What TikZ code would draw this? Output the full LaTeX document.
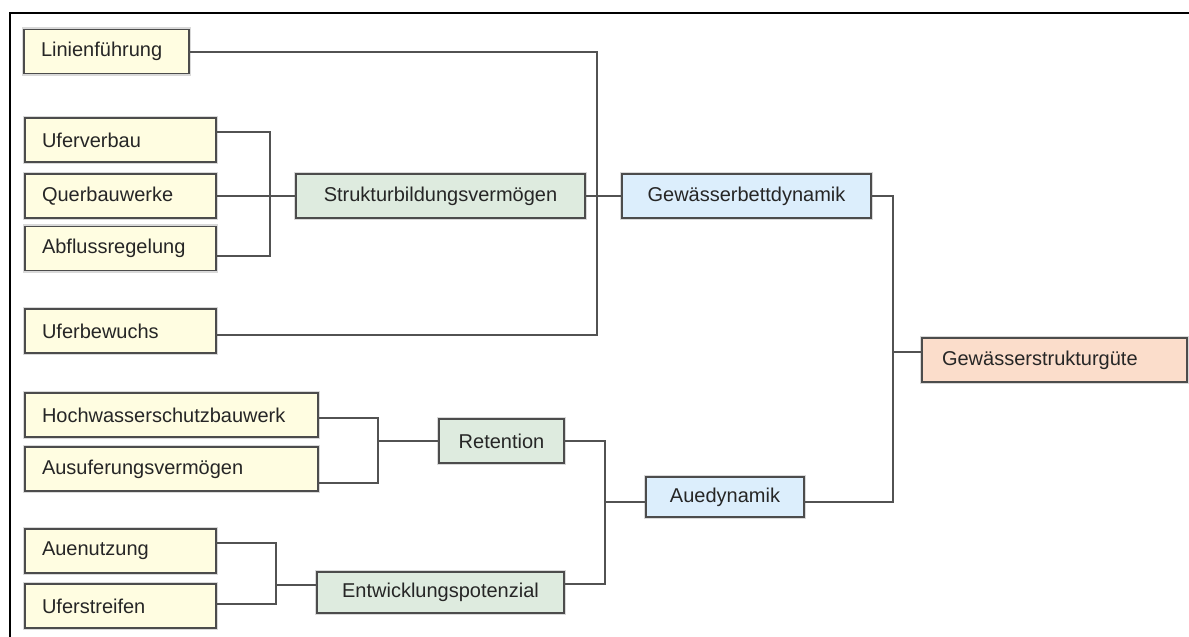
\documentclass[tikz,border=0pt]{standalone}
\usepackage{fontspec}
\setmainfont{Liberation Sans}
\definecolor{leafcol}{HTML}{FFFDE1}
\definecolor{groupcol}{HTML}{DEEBDF}
\definecolor{dyncol}{HTML}{DCEEFC}
\definecolor{resultcol}{HTML}{FBDDCB}
\tikzset{
  box/.style={draw=black!70, line width=1.8pt, preaction={draw=black!15, line width=4.5pt},
    minimum height=44pt, inner ysep=0pt, outer sep=0pt, anchor=west, text=black!85,
    font=\fontsize{20}{24}\selectfont},
  leaf/.style={box, fill=leafcol, inner xsep=17pt, text width=#1, align=left},
  group/.style={box, fill=groupcol, minimum width=#1, align=center},
  dyn/.style={box, fill=dyncol, minimum width=#1, align=center},
  result/.style={box, fill=resultcol, inner xsep=20pt, text width=#1, align=left},
  link/.style={draw=black!68, line width=2pt}
}
\begin{document}
\begin{tikzpicture}[x=1pt, y=-1pt]
    \useasboundingbox (0,0) rectangle (1189,637);
    \draw[line width=2pt] (10,637) -- (10,13) -- (1189,13);

    \node[leaf=131] (lin) at (24,51.5) {Linienführung};
    \node[leaf=157] (ufv) at (25,140) {Uferverbau};
    \node[leaf=157] (que) at (25,196) {Querbauwerke};
    \node[leaf=157] (abf) at (25,248.5) {Abflussregelung};
    \node[leaf=157] (ufb) at (25,331) {Uferbewuchs};
    \node[leaf=259] (hoch) at (25,415) {Hochwasserschutzbauwerk};
    \node[leaf=259] (ausu) at (25,469) {Ausuferungsvermögen};
    \node[leaf=157] (auen) at (25,551) {Auenutzung};
    \node[leaf=157] (ufs) at (25,606) {Uferstreifen};

    \node[group=289] (struk) at (296,196) {Strukturbildungsvermögen};
    \node[group=125] (ret) at (439,441) {Retention};
    \node[group=247, minimum height=41pt] (ent) at (317,592.5) {Entwicklungspotenzial};

    \node[dyn=249] (gbd) at (622,196) {Gewässerbettdynamik};
    \node[dyn=158, minimum height=40pt] (aue) at (646,497) {Auedynamik};

    \node[result=225] (gsg) at (922,360) {Gewässerstrukturgüte};

    \draw[link] ([yshift=8pt]ufv.east) -- ++(54,0) |- ([yshift=-7.5pt]abf.east);
    \draw[link] (que.east) -- (struk.west);
    \draw[link] (lin.east) -- ++(408,0) |- ([yshift=-4pt]ufb.east);
    \draw[link] (struk.east) -- (gbd.west);

    \draw[link] ([yshift=-3pt]hoch.east) -- ++(60,0) |- ([yshift=-14pt]ausu.east);
    \draw[link] (ret.west) -- ++(-61,0);
    \draw[link] ([yshift=8pt]auen.east) -- ++(60,0) |- ([yshift=2pt]ufs.east);
    \draw[link] ([yshift=8pt]ent.west) -- ++(-41,0);
    \draw[link] (ret.east) -- ++(41,0) |- ([yshift=8.5pt]ent.east);
    \draw[link] ([yshift=-5pt]aue.west) -- ++(-41,0);

    \draw[link] (gbd.east) -- ++(22,0) |- ([yshift=-5pt]aue.east);
    \draw[link] ([yshift=8pt]gsg.west) -- ++(-29,0);
\end{tikzpicture}
\end{document}
